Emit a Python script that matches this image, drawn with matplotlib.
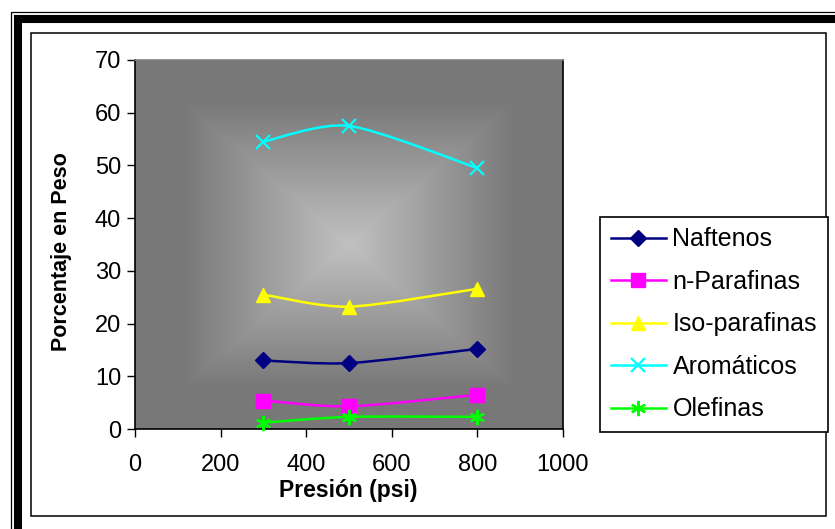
import numpy as np
import matplotlib
matplotlib.use("Agg")
import matplotlib.pyplot as plt
from matplotlib.path import Path
from matplotlib.patches import PathPatch, Rectangle
from matplotlib.lines import Line2D

plt.rcParams['font.family'] = ['Liberation Sans', 'DejaVu Sans']

# Data
presion = [300, 500, 800]
naftenos = [13.0, 12.5, 15.2]
n_parafinas = [5.4, 4.3, 6.5]
iso_parafinas = [25.5, 23.2, 26.6]
aromaticos = [54.5, 57.5, 49.5]
olefinas = [1.2, 2.3, 2.3]

series_names = ["Naftenos", "n-Parafinas", "Iso-parafinas", "Aromáticos", "Olefinas"]
series_values = [naftenos, n_parafinas, iso_parafinas, aromaticos, olefinas]
series_colors = ["#000080", "#FF00FF", "#FFFF00", "#00FFFF", "#00FF00"]
series_markers = ["D", "s", "^", "x", (6, 2, 0)]
marker_sizes = [8, 10, 10, 10, 11]

x_ticks = [0, 200, 400, 600, 800, 1000]
y_ticks = [0, 10, 20, 30, 40, 50, 60, 70]

W, H = 835, 529
fig = plt.figure(figsize=(W / 100, H / 100), dpi=100)


def px_rect(x0, y0, x1, y1, **kw):
    """Rectangle given in pixel coords (origin top-left)."""
    return Rectangle((x0 / W, 1 - y1 / H), (x1 - x0) / W, (y1 - y0) / H,
                     transform=fig.transFigure, **kw)


# Page frame: thin outer line, thick bar, then the chart border
fig.patches.append(px_rect(10.5, 12, 850, 545, fill=False, ec="black", lw=0.9))
fig.patches.append(px_rect(17.5, 19, 850, 531, fill=False, ec="black", lw=5.8))
fig.patches.append(px_rect(31.5, 32.5, 826, 515.5, fill=False, ec="black", lw=1.1))

ax = fig.add_axes([135 / W, 1 - 429 / H, 428 / W, 369 / H])
ax.set_xlim(0, 1000)
ax.set_ylim(0, 70)

# Rectangular centre gradient for the plot area
nx, ny = 400, 300
u = np.linspace(-1, 1, nx)
v = np.linspace(-1, 1, ny)
U, V = np.meshgrid(u, v)
t = np.clip(np.maximum(np.abs(U), np.abs(V)) / 0.78, 0, 1)
center, edge = 193, 120
g = (center + (edge - center) * t) / 255.0
img = np.dstack([g, g, g])
ax.imshow(img, extent=[0, 1000, 0, 70], aspect="auto", zorder=0, interpolation="bilinear")


def smooth_path(xs, ys, k=1 / 7.5):
    pts = np.column_stack([xs, ys]).astype(float)
    n = len(pts)
    verts = [pts[0]]
    codes = [Path.MOVETO]
    for i in range(n - 1):
        p0 = pts[i - 1] if i > 0 else pts[i]
        p1 = pts[i]
        p2 = pts[i + 1]
        p3 = pts[i + 2] if i + 2 < n else pts[i + 1]
        c1 = p1 + (p2 - p0) * k
        c2 = p2 - (p3 - p1) * k
        verts += [c1, c2, p2]
        codes += [Path.CURVE4] * 3
    return Path(verts, codes)


handles = []
for name, vals, col, mk, ms in zip(series_names, series_values, series_colors,
                                   series_markers, marker_sizes):
    ax.add_patch(PathPatch(smooth_path(presion, vals), fill=False, ec=col,
                           lw=1.8, zorder=3))
    mkw = dict(marker=mk, markersize=ms, color=col, mfc=col, mec=col)
    if mk == "x" or isinstance(mk, tuple):
        mkw["mew"] = 1.6
    ax.plot(presion, vals, ls="none", zorder=4, clip_on=False, **mkw)
    handles.append(Line2D([], [], lw=1.8, **mkw))

ax.set_xticks(x_ticks)
ax.set_yticks(y_ticks)
ax.tick_params(direction="out", length=6, width=1, labelsize=17, pad=4)
ax.tick_params(axis="x", pad=12)
for s in ["left", "bottom", "right"]:
    ax.spines[s].set_color("black")
    ax.spines[s].set_linewidth(1.2)
ax.spines["top"].set_color("#808080")
ax.spines["top"].set_linewidth(1.2)

fig.text(348.5 / W, 1 - 491 / H, "Presión (psi)", ha="center", va="center",
         fontsize=16.5, fontweight="bold")
fig.text(62 / W, 1 - 252 / H, "Porcentaje en Peso", ha="center", va="center",
         rotation=90, fontsize=15.5, fontweight="bold")

leg = fig.legend(handles, series_names, loc="upper left",
                 bbox_to_anchor=(600 / W, 1 - 217 / H), bbox_transform=fig.transFigure,
                 fontsize=18, frameon=True, fancybox=False, edgecolor="black",
                 framealpha=1, handlelength=2.2, handletextpad=0.28,
                 labelspacing=0.74, borderpad=0.42, borderaxespad=0)
leg.get_frame().set_linewidth(1.2)

fig.savefig("out.png", dpi=100)
